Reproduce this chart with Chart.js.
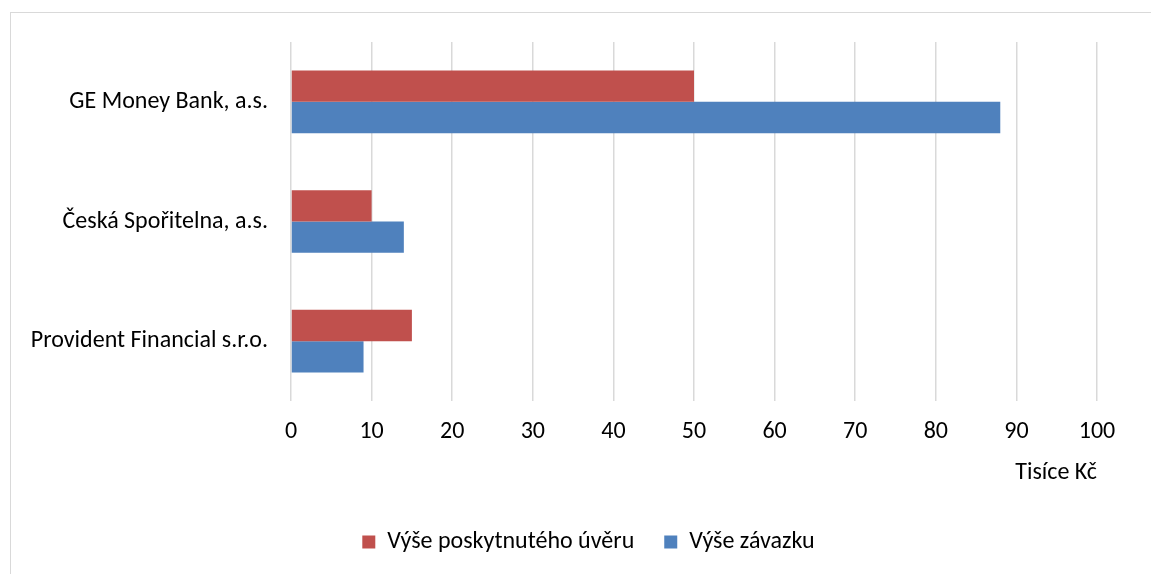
<!DOCTYPE html>
<html>
<head>
<meta charset="utf-8">
<script src="https://cdn.jsdelivr.net/npm/chart.js@4"></script>
<style>
  body { margin: 0; background: #fff; overflow: hidden; }
  #wrap { position: relative; width: 1151px; height: 574px; }
  #frame { position: absolute; left: 10px; top: 12px; width: 1300px; height: 700px;
           border-left: 1px solid #d9d9d9; border-top: 1px solid #d9d9d9; }
  #c { position: absolute; left: 0; top: 0; }
</style>
</head>
<body>
<div id="wrap">
  <div id="frame"></div>
  <canvas id="c" width="1151" height="574"></canvas>
</div>
<script>
// data
const banks = ['GE Money Bank, a.s.', 'Česká Spořitelna, a.s.', 'Provident Financial s.r.o.'];
const uver = [50, 10, 15];     // Výše poskytnutého úvěru
const zavazek = [88, 14, 9];   // Výše závazku
const seriesNames = ['Výše poskytnutého úvěru', 'Výše závazku'];
const axisTitle = 'Tisíce Kč';

const font = 'Carlito, Lato, sans-serif';
Chart.defaults.font.family = font;
Chart.defaults.font.size = 24;
Chart.defaults.color = '#000';

// legenda je v originale posunuta doprava
const shiftLegend = {
  id: 'shiftLegend',
  afterLayout(chart) {
    chart.legend.left += 30;
    chart.legend.right += 30;
  }
};

new Chart(document.getElementById('c').getContext('2d'), {
  type: 'bar',
  data: {
    labels: banks,
    datasets: [
      { label: seriesNames[0], data: uver, backgroundColor: '#C0504D', borderWidth: 0 },
      { label: seriesNames[1], data: zavazek, backgroundColor: '#4F81BD', borderWidth: 0 }
    ]
  },
  plugins: [shiftLegend],
  options: {
    indexAxis: 'y',
    responsive: false,
    animation: false,
    categoryPercentage: 0.524,
    barPercentage: 1,
    layout: { padding: { left: 20, right: 54, top: 42, bottom: 10 } },
    plugins: {
      legend: {
        position: 'bottom',
        labels: { boxWidth: 13, boxHeight: 13, padding: 30 }
      },
      tooltip: { enabled: false }
    },
    scales: {
      x: {
        min: 0, max: 100,
        ticks: { stepSize: 10, padding: 17 },
        grid: { color: '#d9d9d9', lineWidth: 1.5, drawTicks: false },
        border: { display: false },
        title: { display: true, text: axisTitle, align: 'end', padding: { top: 0, bottom: 13 } },
        afterFit: s => { s.height = 99; }
      },
      y: {
        ticks: { padding: 23 },
        grid: { display: false, drawTicks: false },
        border: { display: false },
        afterFit: s => { s.width = 271; }
      }
    }
  }
});
</script>
</body>
</html>
